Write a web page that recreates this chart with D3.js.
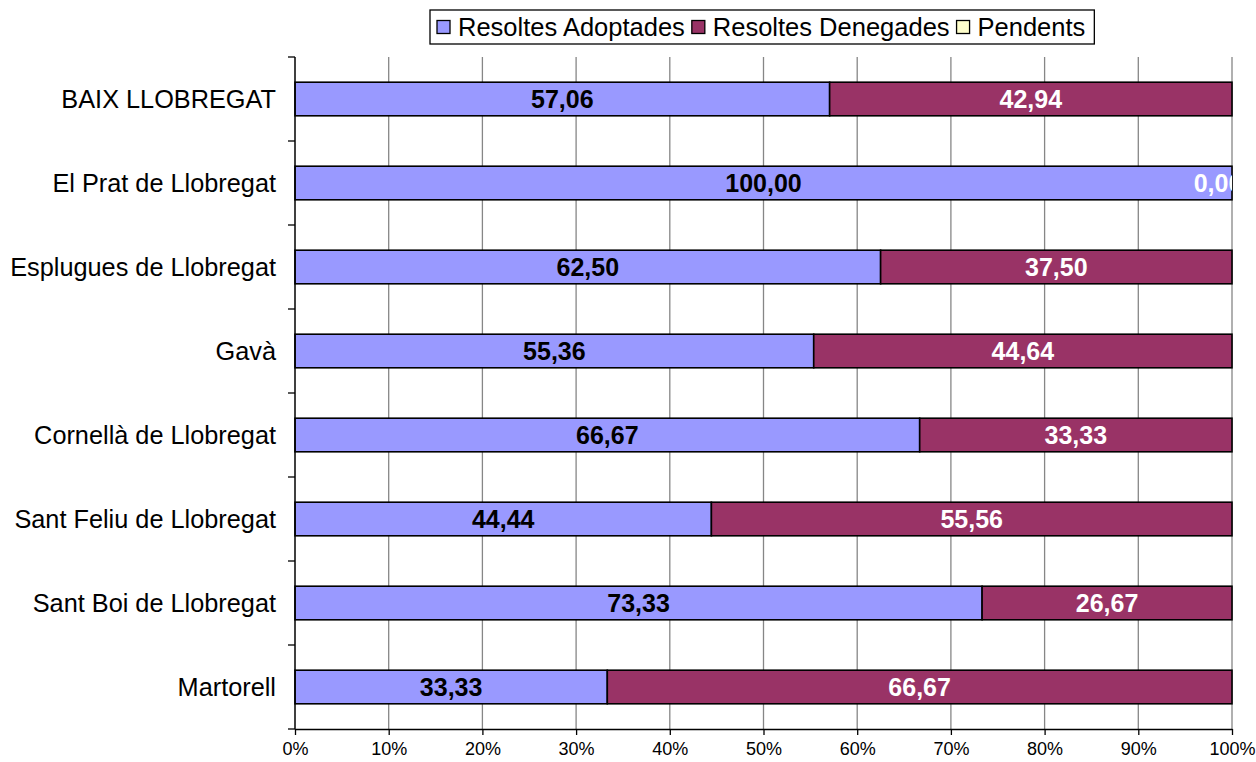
<!DOCTYPE html>
<html>
<head>
<meta charset="utf-8">
<script src="https://cdn.jsdelivr.net/npm/d3@7"></script>
<style>
  html, body { margin: 0; padding: 0; background: #fff; }
  svg { display: block; font-family: Arial, "Liberation Sans", sans-serif; }
</style>
</head>
<body>
<svg id="chart" width="1256" height="762"></svg>
<script>
const categories = ["BAIX LLOBREGAT", "El Prat de Llobregat", "Esplugues de Llobregat", "Gavà",
  "Cornellà de Llobregat", "Sant Feliu de Llobregat", "Sant Boi de Llobregat", "Martorell"];
const seriesNames = ["Resoltes Adoptades", "Resoltes Denegades", "Pendents"];
const adoptades = [57.06, 100.00, 62.50, 55.36, 66.67, 44.44, 73.33, 33.33];
const denegades = [42.94, 0.00, 37.50, 44.64, 33.33, 55.56, 26.67, 66.67];
const pendents = [0, 0, 0, 0, 0, 0, 0, 0];
const xTicks = [0, 10, 20, 30, 40, 50, 60, 70, 80, 90, 100];

const colors = ["#9999FF", "#993366", "#FFFFCC"];
const labelColors = ["#000000", "#FFFFFF", "#000000"];

const margin = { left: 295, right: 24, top: 57, bottom: 33 };
const W = 1256, H = 762;
const svg = d3.select("#chart");

const x = d3.scaleLinear().domain([0, 100]).range([margin.left, W - margin.right]);
const y = d3.scaleBand().domain(categories).range([margin.top, H - margin.bottom])
  .paddingInner(0.6).paddingOuter(0.3);

const rows = categories.map((c, i) => ({ cat: c, v: [adoptades[i], denegades[i], pendents[i]] }));
const stack = d3.stack().keys([0, 1, 2]).value((d, k) => d.v[k]);
const layers = stack(rows);

// clip
svg.append("clipPath").attr("id", "plotclip").append("rect")
  .attr("x", x(0)).attr("y", margin.top - 5)
  .attr("width", x(100) - x(0)).attr("height", H - margin.bottom - margin.top + 10);

// gridlines
svg.append("g").selectAll("line").data(xTicks.slice(1)).join("line")
  .attr("x1", d => x(d)).attr("x2", d => x(d))
  .attr("y1", margin.top).attr("y2", H - margin.bottom)
  .attr("stroke", "#868686").attr("stroke-width", 1.3);

// bars
const gBars = svg.append("g");
layers.forEach((layer, k) => {
  gBars.append("g").selectAll("rect").data(layer).join("rect")
    .attr("x", d => x(d[0]))
    .attr("y", d => y(d.data.cat))
    .attr("width", d => x(d[1]) - x(d[0]))
    .attr("height", y.bandwidth())
    .attr("fill", colors[k])
    .attr("stroke", "#000")
    .attr("stroke-width", 1.6)
    .attr("display", d => (d[1] - d[0]) > 0 ? null : "none");
});

// value labels
const fmt = v => v.toFixed(2).replace(".", ",");
const gLab = svg.append("g").attr("clip-path", "url(#plotclip)");
layers.slice(0, 2).forEach((layer, k) => {
  gLab.append("g").selectAll("text").data(layer).join("text")
    .attr("x", d => Math.min((x(d[0]) + x(d[1])) / 2, x(100) - 14))
    .attr("y", d => y(d.data.cat) + y.bandwidth() / 2)
    .attr("dy", "0.36em")
    .attr("text-anchor", "middle")
    .attr("font-weight", "bold")
    .attr("font-size", 25)
    .attr("fill", labelColors[k])
    .text(d => fmt(d.data.v[k]));
});

// y axis
const yAxis = svg.append("g");
yAxis.append("line").attr("x1", x(0)).attr("x2", x(0))
  .attr("y1", margin.top).attr("y2", H - margin.bottom)
  .attr("stroke", "#000").attr("stroke-width", 1.5);
const boundaries = d3.range(categories.length + 1).map(i => margin.top + i * y.step());
yAxis.selectAll("line.tk").data(boundaries).join("line").attr("class", "tk")
  .attr("x1", x(0) - 7).attr("x2", x(0))
  .attr("y1", d => d).attr("y2", d => d)
  .attr("stroke", "#000").attr("stroke-width", 1.3);
yAxis.selectAll("text").data(categories).join("text")
  .attr("x", x(0) - 19)
  .attr("y", d => y(d) + y.bandwidth() / 2)
  .attr("dy", "0.36em")
  .attr("text-anchor", "end")
  .attr("font-size", 25.3)
  .attr("fill", "#000")
  .text(d => d);

// x axis
const xAxisG = svg.append("g").attr("transform", `translate(0,${H - margin.bottom})`)
  .call(d3.axisBottom(x).tickValues(xTicks).tickFormat(d => d + "%").tickSize(6).tickSizeOuter(0));
xAxisG.select(".domain").attr("stroke", "#000").attr("stroke-width", 1.5);
xAxisG.selectAll(".tick line").attr("stroke", "#000").attr("stroke-width", 1.3);
xAxisG.selectAll(".tick text").attr("font-size", 18).attr("font-family", "Arial, 'Liberation Sans', sans-serif")
  .attr("fill", "#000").attr("y", 13);

// legend
const leg = svg.append("g");
const legBox = leg.append("rect").attr("fill", "#fff").attr("stroke", "#000").attr("stroke-width", 1.3);
let lx = 437;
const ly = 27;
seriesNames.forEach((name, k) => {
  leg.append("rect").attr("x", lx).attr("y", ly - 6.5).attr("width", 13).attr("height", 13)
    .attr("fill", colors[k]).attr("stroke", "#000").attr("stroke-width", 1.3);
  const t = leg.append("text").attr("x", lx + 21).attr("y", ly).attr("dy", "0.36em")
    .attr("font-size", 25.5).attr("fill", "#000").text(name);
  lx = lx + 21 + t.node().getComputedTextLength() + 7;
});
legBox.attr("x", 430).attr("y", 10).attr("width", lx - 430 + 2).attr("height", 34);
</script>
</body>
</html>
